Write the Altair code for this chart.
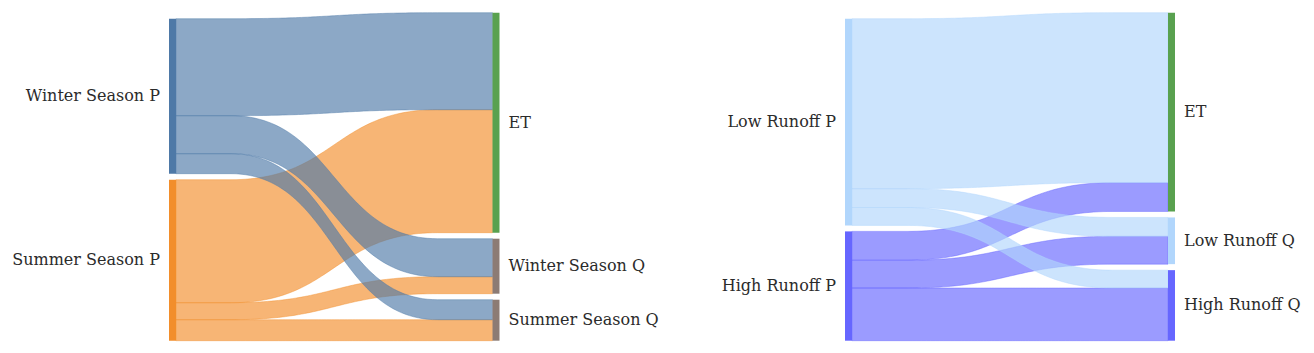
import altair as alt
import numpy as np
import pandas as pd

# ---------------- data ----------------
left_sources = ["Winter Season P", "Summer Season P"]
left_targets = ["ET", "Winter Season Q", "Summer Season Q"]
left_flows = [[97, 38, 20],
              [123, 17, 21]]
left_source_colors = ["#4e79a7", "#f28e2b"]
left_target_colors = ["#59a14f", "#8c7b74", "#8c7b74"]

right_sources = ["Low Runoff P", "High Runoff P"]
right_targets = ["ET", "Low Runoff Q", "High Runoff Q"]
right_flows = [[171, 19, 18],
               [29, 28, 53]]
right_source_colors = ["#b1d6fc", "#6666ff"]
right_target_colors = ["#59a14f", "#b1d6fc", "#6666ff"]

# ---------------- layout (screen pixel coordinates) ----------------
TOP, BOTTOM, PAD = 12.7, 340.7, 6.0
NODE_W = 7.0
FLAT = 55.0

panels = [
    dict(name="L", sources=left_sources, targets=left_targets, flows=left_flows,
         scol=left_source_colors, tcol=left_target_colors, xs=169.0, xt=492.5),
    dict(name="R", sources=right_sources, targets=right_targets, flows=right_flows,
         scol=right_source_colors, tcol=right_target_colors, xs=845.0, xt=1168.0),
]

node_rows, link_rows = [], []


def stack(tots, k):
    y = BOTTOM - (k * sum(tots) + PAD * (len(tots) - 1))
    out = []
    for v in tots:
        out.append((y, y + k * v))
        y += k * v + PAD
    return out


for p in panels:
    flows = p["flows"]
    ns, nt = len(p["sources"]), len(p["targets"])
    s_tot = [sum(r) for r in flows]
    t_tot = [sum(flows[i][j] for i in range(ns)) for j in range(nt)]
    span = BOTTOM - TOP
    k = min((span - PAD * (ns - 1)) / sum(s_tot), (span - PAD * (nt - 1)) / sum(t_tot))
    s_pos = stack(s_tot, k)
    t_pos = stack(t_tot, k)
    for i, name in enumerate(p["sources"]):
        y0, y1 = s_pos[i]
        node_rows.append(dict(label=name, x0=p["xs"], x1=p["xs"] + NODE_W, y0=y0, y1=y1,
                              color=p["scol"][i], side="src", tx=p["xs"] - 9, ty=(y0 + y1) / 2))
    for j, name in enumerate(p["targets"]):
        y0, y1 = t_pos[j]
        node_rows.append(dict(label=name, x0=p["xt"], x1=p["xt"] + NODE_W, y0=y0, y1=y1,
                              color=p["tcol"][j], side="tgt", tx=p["xt"] + NODE_W + 9, ty=(y0 + y1) / 2))
    s_off = [s_pos[i][0] for i in range(ns)]
    t_off = [t_pos[j][0] for j in range(nt)]
    s_start = {}
    for i in range(ns):
        for j in range(nt):
            s_start[(i, j)] = s_off[i]
            s_off[i] += k * flows[i][j]
    t_start = {}
    for j in range(nt):
        for i in range(ns):
            t_start[(i, j)] = t_off[j]
            t_off[j] += k * flows[i][j]
    x0 = p["xs"] + NODE_W
    x1 = p["xt"]
    for i in range(ns):
        for j in range(nt):
            w = k * flows[i][j]
            ya, yb = s_start[(i, j)], t_start[(i, j)]
            lid = f'{p["name"]}-{i}-{j}'
            pts = [(x0, ya)]
            cx0, cx1 = x0 + FLAT, x1 - FLAT
            for t in np.linspace(0, 1, 61):
                xx = cx0 + (cx1 - cx0) * (1.5 * t - 1.5 * t ** 2 + t ** 3)
                yy = ya + (yb - ya) * (3 * t ** 2 - 2 * t ** 3)
                pts.append((xx, yy))
            pts.append((x1, yb))
            for n, (xx, yy) in enumerate(pts):
                link_rows.append(dict(link=lid, sidx=i, x=float(xx), ytop=float(yy),
                                      ybot=float(yy + w), color=p["scol"][i]))

nodes = pd.DataFrame(node_rows)
links = pd.DataFrame(link_rows)

xsc = alt.Scale(domain=[8, 1306], nice=False, zero=False)
ysc = alt.Scale(domain=[8, 343], reverse=True, nice=False, zero=False)

layers = []
for sidx in [1, 0]:
    sub = links[links["sidx"] == sidx]
    layers.append(
        alt.Chart(sub).mark_area(interpolate="linear", orient="vertical", fillOpacity=0.65,
                                 strokeWidth=0.8, strokeOpacity=0.55).encode(
            x=alt.X("x:Q", scale=xsc, axis=None),
            y=alt.Y("ytop:Q", scale=ysc, axis=None, stack=None),
            y2="ybot:Q",
            fill=alt.Fill("color:N", scale=None),
            stroke=alt.Stroke("color:N", scale=None),
            detail="link:N",
        )
    )

node_layer = alt.Chart(nodes).mark_rect().encode(
    x=alt.X("x0:Q", scale=xsc, axis=None), x2="x1:Q",
    y=alt.Y("y0:Q", scale=ysc, axis=None), y2="y1:Q",
    color=alt.Color("color:N", scale=None),
)

text_src = alt.Chart(nodes[nodes["side"] == "src"]).mark_text(
    align="right", baseline="middle", font="DejaVu Serif", fontSize=16, color="#2b2b2b"
).encode(
    x=alt.X("tx:Q", scale=xsc, axis=None),
    y=alt.Y("ty:Q", scale=ysc, axis=None),
    text="label:N",
)
text_tgt = alt.Chart(nodes[nodes["side"] == "tgt"]).mark_text(
    align="left", baseline="middle", font="DejaVu Serif", fontSize=16, color="#2b2b2b"
).encode(
    x=alt.X("tx:Q", scale=xsc, axis=None),
    y=alt.Y("ty:Q", scale=ysc, axis=None),
    text="label:N",
)

chart = alt.layer(*layers, node_layer, text_src, text_tgt).properties(
    width=1298, height=335, padding=0
).configure_view(stroke=None)

chart.save("out.html", embed_options={"renderer": "svg", "actions": False})
